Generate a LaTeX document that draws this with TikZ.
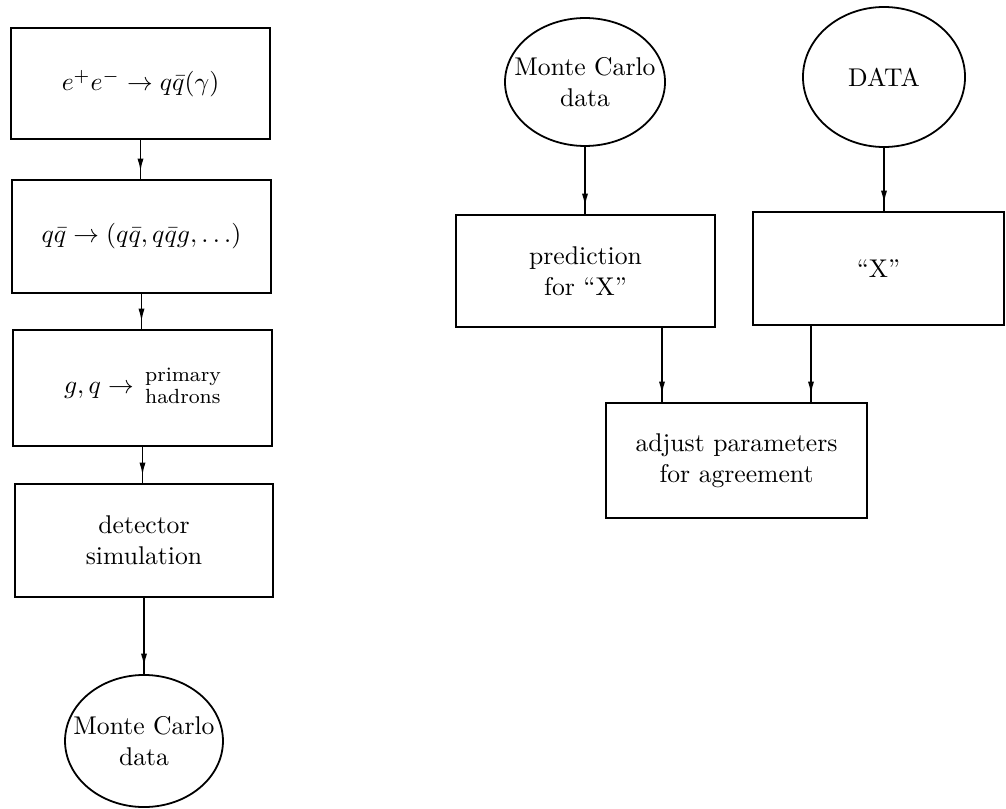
\documentclass[tikz,border=0pt]{standalone}
\usetikzlibrary{shapes.geometric,arrows.meta,decorations.markings,calc}
\begin{document}
\begin{tikzpicture}[x=0.39pt,y=-0.39pt,
  boxnode/.style={draw,line width=0.7pt,rectangle,inner sep=0pt,align=center},
  ovalnode/.style={draw,line width=0.7pt,ellipse,inner sep=0pt},
  conn/.style={line width=0.6pt,postaction={decorate},
    decoration={markings,mark=at position -3pt with {\arrow{Latex[length=5pt,width=2.4pt]}}}}]
\useasboundingbox (0,0) rectangle (1006,808);
% left column
\node[boxnode,minimum width=101pt,minimum height=43.3pt] (b1) at (140.5,83.5) {$e^+e^-\to q\bar q(\gamma)$};
\node[boxnode,minimum width=101pt,minimum height=44.1pt] (b2) at (141.5,236.5) {$q\bar q\to(q\bar q,q\bar q g,\ldots)$};
\node[boxnode,minimum width=101pt,minimum height=45.2pt] (b3) at (142.5,388) {$g,q\to{}$\,{\footnotesize\begin{tabular}{@{}l@{}}primary\\[-1pt]hadrons\end{tabular}}};
\node[boxnode,minimum width=100.6pt,minimum height=44.1pt] (b4) at (144,540.5) {detector\\simulation};
\node[ovalnode,minimum width=61.6pt,minimum height=51.5pt,
  label={[align=center]center:Monte Carlo\\data}] (mcL) at (144,741) {};
% right part
\node[ovalnode,minimum width=62.4pt,minimum height=49.9pt,
  label={[align=center]center:Monte Carlo\\data}] (mcR) at (585,82) {};
\node[ovalnode,minimum width=63.2pt,minimum height=54.6pt,
  label={center:DATA}] (data) at (884,77) {};
\node[boxnode,minimum width=101pt,minimum height=43.7pt] (pred) at (585.5,271) {prediction\\for ``X''};
\node[boxnode,minimum width=97.9pt,minimum height=44.1pt] (xb) at (878.5,268.5) {``X''};
\node[boxnode,minimum width=101.8pt,minimum height=44.9pt] (adj) at (736.5,460.5) {adjust parameters\\for agreement};
% connectors
\draw[conn] (b1.south) -- (b1.south |- b2.north);
\draw[conn] (b2.south) -- (b2.south |- b3.north);
\draw[conn] (b3.south) -- (b3.south |- b4.north);
\draw[conn] (b4.south) -- (b4.south |- mcL.north);
\draw[conn] (mcR.south) -- (mcR.south |- pred.north);
\draw[conn] (data.south) -- (data.south |- xb.north);
\coordinate (p1) at ($(pred.south)+(76.5,0)$);
\coordinate (p2) at ($(xb.south)+(-67.5,0)$);
\draw[conn] (p1) -- (p1 |- adj.north);
\draw[conn] (p2) -- (p2 |- adj.north);
\end{tikzpicture}
\end{document}
